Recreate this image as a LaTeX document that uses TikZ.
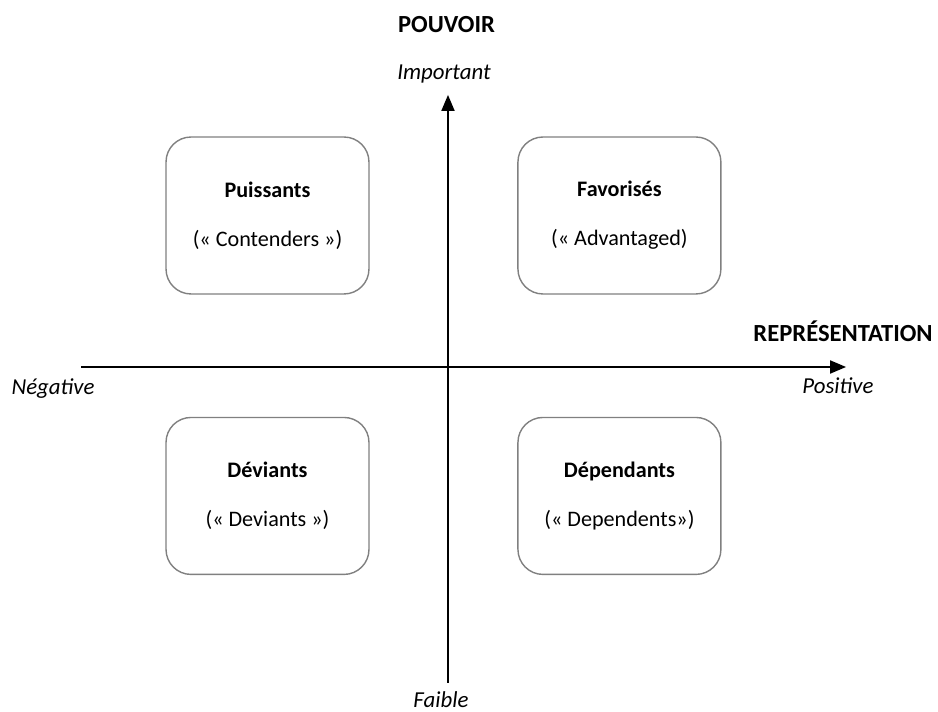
\documentclass[tikz,border=0pt]{standalone}
\usepackage{fontspec}
\setmainfont{Carlito}
\usepackage{tikz}
\usetikzlibrary{positioning}
\usetikzlibrary{shapes,arrows}
\tikzset{%
  block/.style = {draw=gray, line width=0.8pt, rectangle, rounded corners=0.5cm,
    minimum height=3.14cm, minimum width=4.06cm, align=center,
    font=\fontsize{12.6}{15}\selectfont,
    execute at begin node=\rule{0pt}{12.5pt}}, % quadrant
  axe/.style   = {line width=1.1pt, ->}, % axis
  titre/.style = {inner sep=0pt, font=\fontsize{14}{17}\selectfont\bfseries}, % axis title
  pole/.style  = {inner sep=0pt, font=\fontsize{13}{16}\selectfont\itshape} % axis end
}

\begin{document}
\begin{tikzpicture}[x=0.02cm, y=0.02cm, >=triangle 45]
	\useasboundingbox (0,0) rectangle (938,-712);

	\draw node at (267.5,-215.5) [block] (puissants) {\textbf{Puissants}\\[13pt](« Contenders »)};
	\draw node [block, right of=puissants, node distance = 7.04cm] (favorises) {\textbf{Favorisés}\\[13pt](« Advantaged)};
	\draw node [block, below of=puissants, node distance = 5.61cm] (deviants) {\textbf{Déviants}\\[13pt](« Deviants »)};
	\draw node [block, below of=favorises, node distance = 5.61cm] (dependants) {\textbf{Dépendants}\\[13pt](« Dependents»)};

	\coordinate (xmin) at (81,-367);
	\coordinate (xmax) at (846,-367);
	\coordinate (ymin) at (448,-683);
	\coordinate (ymax) at (448,-95);

	\draw[axe] (xmin) -- (xmax);
	\draw[axe] (ymin) -- (ymax);

	\draw node [titre] at (446.5,-25) (pouvoir) {POUVOIR};
	\draw node [pole, anchor=base] at (444,-80) (important) {Important};
	\draw node [pole, anchor=base] at (441,-708) (faible) {Faible};
	\draw node [titre, anchor=base east] at (933,-342) (representation) {REPRÉSENTATION};
	\draw node [pole, anchor=base] at (53,-395) (negative) {Négative};
	\draw node [pole, anchor=base] at (838,-394) (positive) {Positive};

\end{tikzpicture}
\end{document}
